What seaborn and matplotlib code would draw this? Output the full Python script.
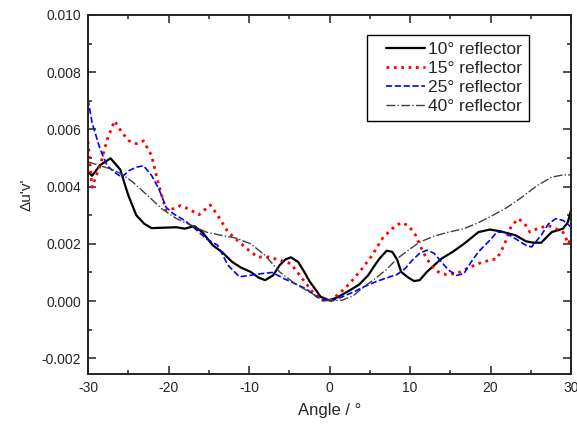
import numpy as np
import pandas as pd
import matplotlib
matplotlib.use("Agg")
import matplotlib.pyplot as plt
from matplotlib.ticker import MultipleLocator
from matplotlib.legend_handler import HandlerLine2D
import seaborn as sns

# values (angle in degrees, delta u'v' in units of 1e-3)
x_10 = [-30, -29.5, -28.5, -27.2, -26, -25, -24, -23, -22.1, -19, -18, -16.8, -15.8, -14.5, -13.3, -12.1,
        -11, -9.8, -8.8, -8, -7, -6.2, -5.5, -4.8, -3.9, -3.2, -2.5, -1.1, 0, 1.1, 2.5, 3.7, 4.8,
        5.5, 6.2, 7.1, 7.8, 8.4, 8.9, 9.8, 10.5, 11.2, 12.1, 13, 13.9, 15.3, 16.7, 18.5, 19.9,
        21.2, 23.1, 24.4, 25.3, 26.3, 27.6, 29, 29.6, 30]
y_10 = [4.52, 4.38, 4.75, 4.99, 4.6, 3.7, 3.0, 2.7, 2.55, 2.58, 2.53, 2.62, 2.41, 1.95, 1.7, 1.37,
        1.17, 1.02, 0.82, 0.73, 0.9, 1.25, 1.45, 1.53, 1.37, 1.05, 0.70, 0.15, 0.02, 0.15, 0.37, 0.58, 0.9,
        1.2, 1.48, 1.76, 1.72, 1.45, 1.02, 0.82, 0.70, 0.73, 1.02, 1.25, 1.48, 1.72, 2.0, 2.41, 2.5,
        2.44, 2.30, 2.09, 2.04, 2.04, 2.41, 2.53, 2.75, 3.17]

x_15 = [-30, -29.5, -28.5, -27.6, -26.7, -25.8, -24.9, -24, -23.1, -22.1, -21.2, -20.3, -19.4,
        -18.5, -17.6, -16.2, -14.8, -13.9, -12.6, -11.2, -9.8, -8.9, -7.5, -6.2, -4.8, -3.4,
        -2.1, -0.9, 0, 1.1, 2.5, 3.9, 5.3, 6.6, 8, 8.9, 9.8, 10.7, 11.6, 12.6, 13.5, 14.4, 15.8,
        17.1, 18.5, 19.9, 20.8, 21.7, 22.6, 23.5, 24.4, 24.9, 25.8, 27.2, 28.1, 29, 29.7, 30]
y_15 = [5.58, 3.98, 4.73, 5.66, 6.3, 5.9, 5.6, 5.5, 5.6, 5.08, 4.04, 3.17, 3.23,
        3.34, 3.23, 3.02, 3.36, 3.0, 2.41, 2.06, 1.72, 1.54, 1.54, 1.43, 1.31, 0.79,
        0.32, 0.03, 0.02, 0.23, 0.61, 1.08, 1.6, 2.2, 2.59, 2.74, 2.64, 2.30, 1.72, 1.25, 1.02, 0.93, 0.96,
        1.14, 1.31, 1.43, 1.48, 1.95, 2.64, 2.88, 2.64, 2.41, 2.53, 2.64, 2.53, 2.41, 2.0, 2.3]

x_25 = [-30, -29.5, -28.5, -27.6, -26.7, -25.8, -24.9, -24, -23.1, -22.1, -21.2, -20.3, -19.4,
        -18, -16.7, -15.3, -13.9, -12.6, -11.2, -9.8, -8.4, -7.1, -5.7, -4.3, -3, -1.6, -0.7,
        0.2, 1.6, 3, 4.3, 5.7, 7.1, 8.4, 9.4, 10.3, 11.2, 12.1, 13, 13.9, 14.8, 15.8, 16.7, 17.6,
        18.5, 19.9, 20.8, 21.7, 23.1, 24.4, 25.1, 26.3, 27.2, 28.1, 29, 30]
y_25 = [7.05, 6.24, 5.31, 4.73, 4.5, 4.33, 4.56, 4.68, 4.73, 4.39, 3.92, 3.28, 3.05,
        2.82, 2.53, 2.18, 1.95, 1.25, 0.85, 0.9, 0.96, 1.0, 0.79, 0.61, 0.44, 0.15, 0.03,
        0.0, 0.15, 0.32, 0.5, 0.67, 0.81, 0.93, 1.14, 1.43, 1.67, 1.78, 1.67, 1.37, 1.08, 0.9, 0.96, 1.37,
        1.72, 2.12, 2.41, 2.41, 2.18, 1.95, 1.89, 2.3, 2.7, 2.88, 2.82, 2.59]

x_40 = [-30, -28.5, -27.2, -25.8, -24.4, -22.6, -20.8, -19, -17.1, -15.3, -13.5, -11.6, -9.8,
        -8, -6.2, -4.3, -2.5, -1.1, 0.2, 1.6, 3, 4.3, 5.7, 7.1, 8.4, 9.8, 11.2, 13, 14.8, 16.7,
        18.5, 20.3, 22.1, 23.9, 25.8, 27.6, 29, 30]
y_40 = [4.87, 4.73, 4.62, 4.44, 4.15, 3.69, 3.22, 2.88, 2.64, 2.41, 2.30, 2.2, 2.0,
        1.6, 1.02, 0.61, 0.32, 0.09, 0.01, 0.03, 0.2, 0.5, 0.79, 1.11, 1.48, 1.78, 2.06, 2.27, 2.41, 2.53,
        2.74, 3.0, 3.28, 3.63, 4.04, 4.33, 4.41, 4.41]

labels = ["10° reflector", "15° reflector", "25° reflector", "40° reflector"]

sns.set_theme(style="ticks")
plt.rcParams['font.family'] = ['Liberation Sans', 'DejaVu Sans']
plt.rcParams['axes.unicode_minus'] = False

fig = plt.figure(figsize=(5.77, 4.26), dpi=100)
ax = fig.add_axes([88 / 577, 1 - 374 / 426, 483 / 577, 359 / 426])

series = [(x_10, y_10, "black", "-", 1.6),
          (x_15, y_15, "#ff0000", ":", 2.0),
          (x_25, y_25, "#0000ff", "--", 1.2),
          (x_40, y_40, "#404040", "-.", 1.0)]

for (xs, ys, col, ls, lw), lab in zip(series, labels):
    df = pd.DataFrame({"angle": xs, "duv": np.array(ys) / 1000})
    sns.lineplot(data=df, x="angle", y="duv", ax=ax, color=col, linestyle=ls,
                 linewidth=lw, label=lab)

ax.set_xlim(-30, 30)
ax.set_ylim(-0.00255, 0.010)
ax.xaxis.set_major_locator(MultipleLocator(10))
ax.xaxis.set_minor_locator(MultipleLocator(5))
ax.yaxis.set_major_locator(MultipleLocator(0.002))
ax.yaxis.set_minor_locator(MultipleLocator(0.001))
ax.yaxis.set_major_formatter(plt.FuncFormatter(lambda v, p: f"{v:.3f}"))
ax.tick_params(which="both", direction="in", top=True, right=True, labelsize=10,
               width=1.1, color="#222222")
ax.tick_params(which="major", length=5.5, pad=5)
ax.tick_params(which="minor", length=3)
for s in ax.spines.values():
    s.set_linewidth(1.4)
    s.set_color("#222222")

ax.set_xlabel("Angle / °", fontsize=12, labelpad=6)
ax.set_ylabel("\u0394u'v'", fontsize=11, labelpad=6)

handles, _ = ax.get_legend_handles_labels()
leg = ax.legend(handles, labels, loc="upper right", bbox_to_anchor=(0.913, 0.944),
                borderaxespad=0, fontsize=12.5, frameon=True, fancybox=False,
                edgecolor="black", framealpha=1, handlelength=2.9, handletextpad=0.2,
                borderpad=0.4, labelspacing=0.22,
                handler_map={h: HandlerLine2D(xpad=0.7) for h in handles})
leg.get_frame().set_linewidth(1.0)

fig.savefig("out.png", dpi=100)
